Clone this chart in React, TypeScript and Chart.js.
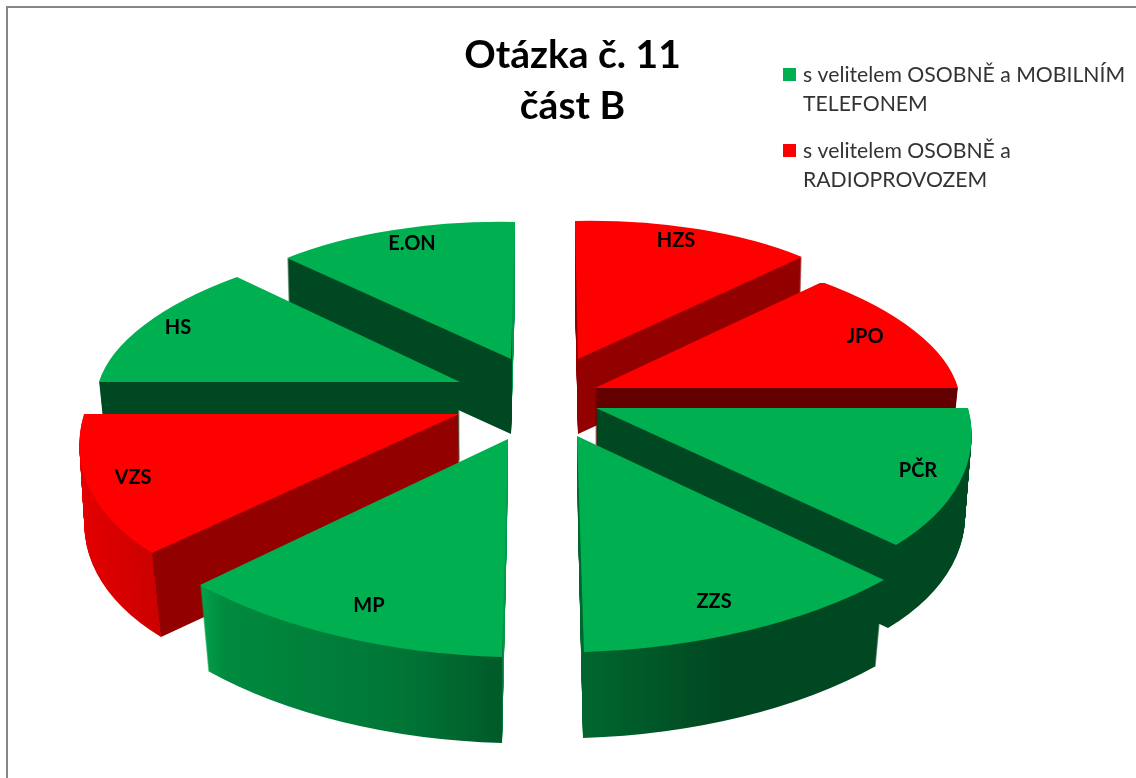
import React, { useEffect, useRef } from "react";
import { Chart, registerables } from "chart.js";

Chart.register(...registerables);

const sliceLabels = ["HZS", "JPO", "PČR", "ZZS", "MP", "VZS", "HS", "E.ON"];
const sliceValues = [1, 1, 1, 1, 1, 1, 1, 1];
const sliceGroups = [1, 1, 0, 0, 0, 1, 0, 0];
const titleLines = ["Otázka č. 11", "část B"];
const legendLines = [
  ["s velitelem OSOBNĚ a MOBILNÍM", "TELEFONEM"],
  ["s velitelem OSOBNĚ a", "RADIOPROVOZEM"],
];

// ---- styling and the hand-fitted 3D projection of each exploded slice ----
const TOP_COLORS = ["#00B050", "#FF0000"];
type P = [number, number];
type Frame = { a: P; s: P; e: P; depth: number; dxA: number; dxS: number; dxE: number; label: P };
const frames: Frame[] = [
  { a: [578, 359], s: [575, 221], e: [802, 257], depth: 75, dxA: 0, dxS: 0, dxE: -2, label: [676, 241] },
  { a: [595, 388], s: [822, 282], e: [958, 388], depth: 78, dxA: 0, dxS: -2, dxE: -8, label: [865, 337] },
  { a: [596, 408], s: [968, 408], e: [896, 545], depth: 83, dxA: 0, dxS: -6, dxE: -8, label: [918, 471] },
  { a: [577, 436], s: [884, 580], e: [584, 652], depth: 86, dxA: 1, dxS: -8, dxE: -1, label: [714, 602] },
  { a: [508, 439], s: [502, 657], e: [200, 585], depth: 86, dxA: -1, dxS: 0, dxE: 8, label: [369, 606] },
  { a: [459, 414], s: [152, 553], e: [84, 414], depth: 84, dxA: 2, dxS: 9, dxE: 4, label: [133, 478] },
  { a: [460, 382], s: [99, 382], e: [237, 277], depth: 78, dxA: 0, dxS: 8, dxE: 2, label: [178, 328] },
  { a: [511, 359], s: [287, 258], e: [515, 222], depth: 75, dxA: 0, dxS: 2, dxE: 0, label: [412, 244] },
];
type Stop = [number | null, string];
const wallStops: Stop[][] = [
  [[500, "#930000"], [900, "#930000"]],
  [[500, "#640000"], [1000, "#640000"]],
  [[500, "#004821"], [1000, "#004821"]],
  [[584, "#00662e"], [640, "#005a29"], [720, "#004821"], [900, "#004821"]],
  [[200, "#00a34b"], [225, "#008a3f"], [400, "#007636"], [502, "#005a29"], [503, "#00994a"], [520, "#00994a"]],
  [[80, "#e40000"], [null, "#cc0000"], [null, "#930000"], [480, "#930000"]],
  [[90, "#004821"], [470, "#004821"]],
  [[280, "#004821"], [511.5, "#004821"], [512, "#00994a"], [520, "#00994a"]],
];
const drawOrder = [7, 0, 6, 1, 5, 2, 4, 3];
const FONT = "Lato, 'Open Sans', sans-serif";

function affine(el: any, a: P, s: P, e: P) {
  const { x, y, outerRadius: R, startAngle, endAngle } = el.getProps(["x", "y", "outerRadius", "startAngle", "endAngle"], true);
  const ux = R * Math.cos(startAngle), uy = R * Math.sin(startAngle);
  const vx = R * Math.cos(endAngle), vy = R * Math.sin(endAngle);
  const det = ux * vy - vx * uy;
  const d1x = s[0] - a[0], d1y = s[1] - a[1], d2x = e[0] - a[0], d2y = e[1] - a[1];
  const m11 = (d1x * vy - d2x * uy) / det;
  const m12 = (-d1x * vx + d2x * ux) / det;
  const m21 = (d1y * vy - d2y * uy) / det;
  const m22 = (-d1y * vx + d2y * ux) / det;
  return { a: m11, b: m21, c: m12, d: m22, e: a[0] - m11 * x - m12 * y, f: a[1] - m21 * x - m22 * y };
}

function wallGradient(ctx: CanvasRenderingContext2D, m: any, stops: Stop[], cornerX: number) {
  const xs = stops.map(([x]) => (x === null ? cornerX : x));
  const x0 = xs[0], x1 = xs[xs.length - 1];
  const n = m.a * m.a + m.c * m.c;
  const p = (x: number) => [(m.a * (x - m.e)) / n, (m.c * (x - m.e)) / n];
  const [ax, ay] = p(x0), [bx, by] = p(x1);
  const g = ctx.createLinearGradient(ax, ay, bx, by);
  stops.forEach(([, c], i) => g.addColorStop(Math.min(1, Math.max(0, (xs[i] - x0) / (x1 - x0))), c));
  return g;
}

const piePerspective = {
  id: "piePerspective",
  beforeDatasetsDraw(chart: any) {
    const ctx: CanvasRenderingContext2D = chart.ctx;
    const arcs = chart.getDatasetMeta(0).data;
    for (const i of drawOrder) {
      const el = arcs[i];
      const f = frames[i];
      const base = el.options;
      const steps = Math.round(f.depth);
      for (let k = steps; k >= 1; k--) {
        const t = k / steps;
        const a: P = [f.a[0] + f.dxA * t, f.a[1] + f.depth * t];
        const s: P = [f.s[0] + f.dxS * t, f.s[1] + f.depth * t];
        const e: P = [f.e[0] + f.dxE * t, f.e[1] + f.depth * t];
        const m = affine(el, a, s, e);
        ctx.save();
        ctx.transform(m.a, m.b, m.c, m.d, m.e, m.f);
        el.options = { ...base, backgroundColor: wallGradient(ctx, m, wallStops[i], s[0]) };
        el.draw(ctx);
        ctx.restore();
      }
      el.options = base;
      const m = affine(el, f.a, f.s, f.e);
      ctx.save();
      ctx.transform(m.a, m.b, m.c, m.d, m.e, m.f);
      el.draw(ctx);
      ctx.restore();
    }
    return false;
  },
  afterDraw(chart: any) {
    const ctx: CanvasRenderingContext2D = chart.ctx;
    ctx.save();
    // frame of the picture
    ctx.fillStyle = "#868686";
    ctx.fillRect(6, 6, chart.width - 6, 2);
    ctx.fillRect(6, 6, 2, chart.height - 6);
    // slice labels
    ctx.fillStyle = "#000";
    ctx.font = `bold 20px ${FONT}`;
    ctx.textAlign = "center";
    ctx.textBaseline = "middle";
    sliceLabels.forEach((t, i) => ctx.fillText(t, frames[i].label[0], frames[i].label[1]));
    // legend
    ctx.font = `21.2px ${FONT}`;
    ctx.textAlign = "left";
    const rows = [75, 151];
    legendLines.forEach((lines, g) => {
      ctx.fillStyle = TOP_COLORS[g];
      ctx.fillRect(783, rows[g] - 7, 13, 13);
      ctx.fillStyle = "#333";
      lines.forEach((line, j) => ctx.fillText(line, 803, rows[g] + j * 29));
    });
    ctx.restore();
  },
};

export default function App() {
  const ref = useRef<HTMLCanvasElement>(null);
  useEffect(() => {
    const chart = new Chart(ref.current!, {
      type: "pie",
      data: {
        labels: sliceLabels,
        datasets: [
          {
            data: sliceValues,
            backgroundColor: sliceGroups.map((g) => TOP_COLORS[g]),
            borderWidth: 0,
          },
        ],
      },
      options: {
        responsive: false,
        animation: false,
        layout: { padding: { left: 9, top: 0 } },
        plugins: {
          legend: { display: false },
          tooltip: { enabled: false },
          title: {
            display: true,
            text: titleLines,
            fullSize: false,
            color: "#000",
            font: { family: FONT, weight: "bold", size: 39, lineHeight: 1.33 },
            padding: { top: 29, bottom: 10 },
          },
        },
      },
      plugins: [piePerspective],
    } as any);
    return () => chart.destroy();
  }, []);
  return (
    <canvas
      ref={ref}
      width={1136}
      height={778}
      style={{ position: "fixed", left: 0, top: 0, width: 1136, height: 778, display: "block" }}
    />
  );
}
